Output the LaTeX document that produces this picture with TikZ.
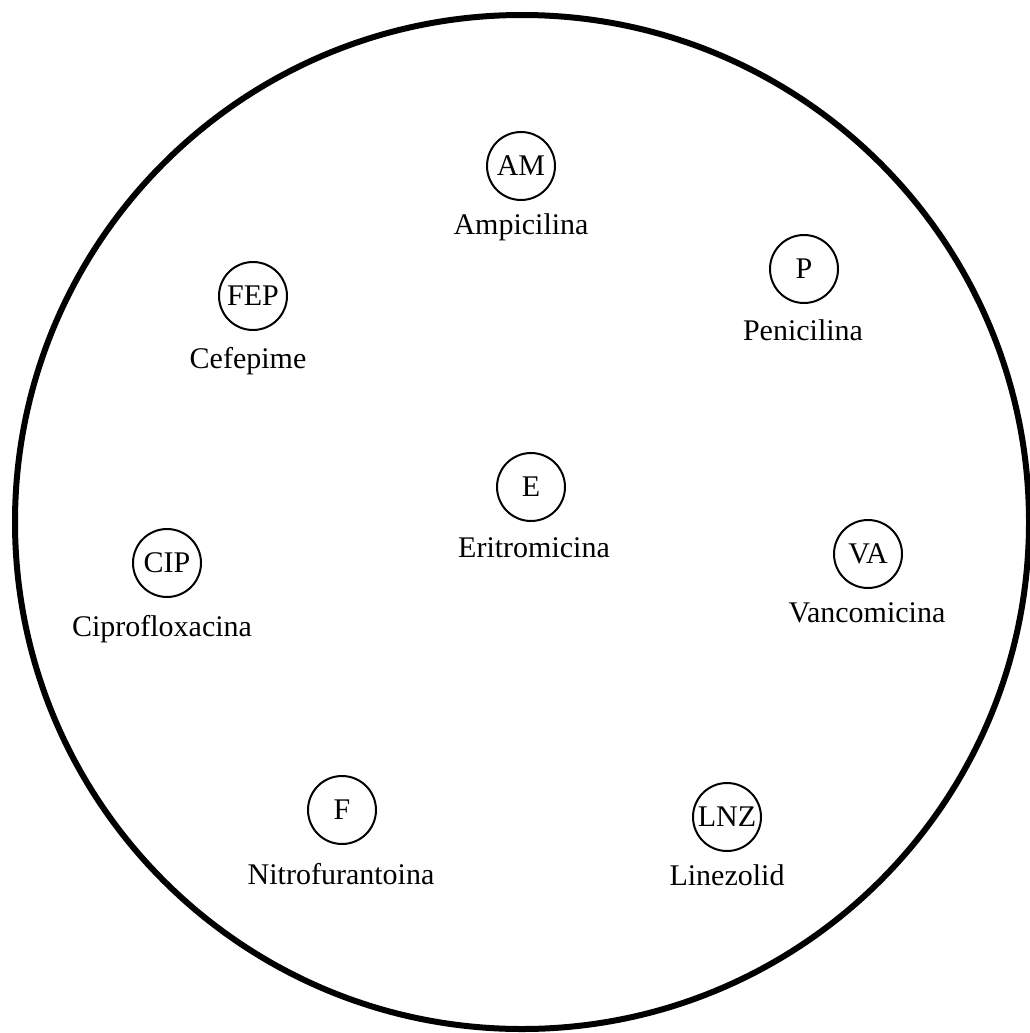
\documentclass[tikz,border=0pt]{standalone}
\usepackage{fontspec}
\setmainfont{Liberation Serif}
\begin{document}
\begin{tikzpicture}[x=1pt,y=-1pt,
  disk/.style={circle,draw=black,line width=2pt,minimum size=68pt,inner sep=0pt,font=\fontsize{30}{36}\selectfont},
  drug/.style={anchor=base,inner sep=0pt,font=\fontsize{30}{36}\selectfont},
  plate/.style={circle,draw=black,line width=6pt,minimum size=1014pt,inner sep=0pt}]
\useasboundingbox (0,0) rectangle (1030,1033);
\node[plate] (plate) at (522,522) {};
\node[disk] (am) at (521,166) {AM};
\node[drug] (aml) at (521,234) {Ampicilina};
\node[disk] (p) at (804,269) {P};
\node[drug] (pl) at (803,340) {Penicilina};
\node[disk] (fep) at (253,296) {FEP};
\node[drug] (fepl) at (248,368) {Cefepime};
\node[disk] (e) at (531,487) {E};
\node[drug] (el) at (534,557) {Eritromicina};
\node[disk] (cip) at (167,563) {CIP};
\node[drug] (cipl) at (162,636) {Ciprofloxacina};
\node[disk] (va) at (868,554) {VA};
\node[drug] (val) at (867,622) {Vancomicina};
\node[disk] (f) at (342,810) {F};
\node[drug] (fl) at (341,884) {Nitrofurantoina};
\node[disk] (lnz) at (727,817) {LNZ};
\node[drug] (lnzl) at (727,885) {Linezolid};
\end{tikzpicture}
\end{document}
